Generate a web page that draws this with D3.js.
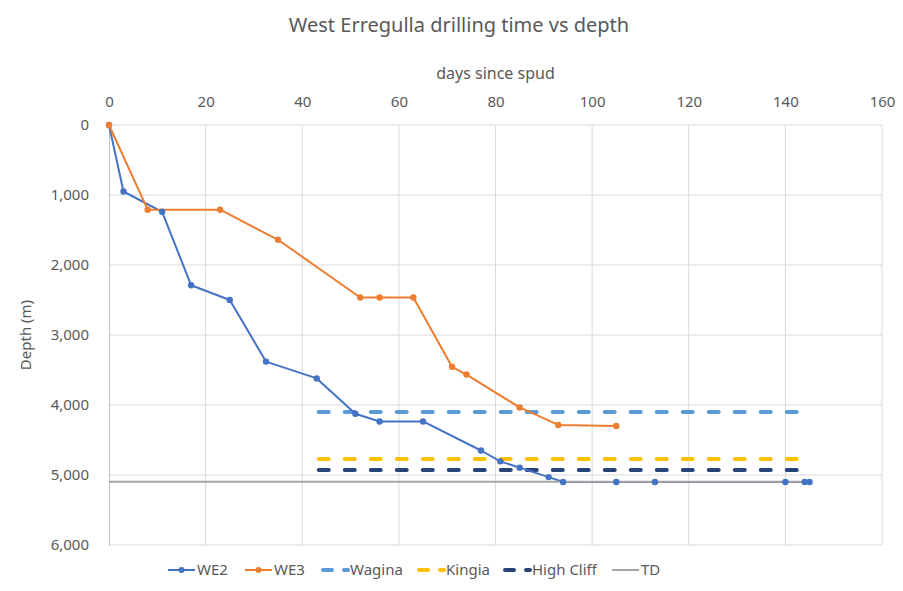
<!DOCTYPE html>
<html>
<head>
<meta charset="utf-8">
<script src="https://cdn.jsdelivr.net/npm/d3@7"></script>
<style>
  body { margin: 0; background: #fff; }
  text { font-family: "Noto Sans", "Open Sans", sans-serif; fill: #595959; }
</style>
</head>
<body>
<div id="chart"></div>
<script>
// well data: [days since spud, depth m]
const we2 = [[0, 0], [3, 950], [11, 1240], [17, 2290], [25, 2500], [32.5, 3380], [43, 3620],
  [51, 4125], [56, 4235], [65, 4235], [77, 4650], [81, 4805], [85, 4895], [91, 5030],
  [94, 5100], [105, 5100], [113, 5100], [140, 5100], [144, 5100], [145, 5100]];
const we3 = [[0, 0], [8, 1210], [23, 1210], [35, 1640], [52, 2465], [56, 2465], [63, 2465],
  [71, 3455], [74, 3565], [85, 4035], [93, 4285], [105, 4300]];
const tops = [
  { name: 'Wagina', depth: 4100, color: '#5B9BD5' },
  { name: 'Kingia', depth: 4770, color: '#FFC000' },
  { name: 'High Cliff', depth: 4930, color: '#264478' }
];
const topsDays = [43, 142.5];
const td = { depth: 5095, days: [0, 145] };
const xTicks = [0, 20, 40, 60, 80, 100, 120, 140, 160];
const yTicks = [0, 1000, 2000, 3000, 4000, 5000, 6000];

const width = 903, height = 591;
const margin = { top: 125, right: 21, bottom: 46, left: 109 };

const x = d3.scaleLinear().domain([0, 160]).range([margin.left, width - margin.right]);
const y = d3.scaleLinear().domain([0, 6000]).range([margin.top, height - margin.bottom]);

const svg = d3.select('#chart').append('svg')
  .attr('width', width)
  .attr('height', height);

// grid
svg.append('g')
  .selectAll('line')
  .data(xTicks.slice(1))
  .join('line')
  .attr('x1', d => x(d)).attr('x2', d => x(d))
  .attr('y1', y(0)).attr('y2', y(6000))
  .attr('stroke', '#D9D9D9').attr('stroke-width', 1);

svg.append('g')
  .selectAll('line')
  .data(yTicks)
  .join('line')
  .attr('x1', x(0)).attr('x2', x(160))
  .attr('y1', d => y(d)).attr('y2', d => y(d))
  .attr('stroke', '#D9D9D9').attr('stroke-width', 1);

// axes
const xAxis = g => g
  .attr('transform', `translate(0,${margin.top})`)
  .call(d3.axisTop(x).tickValues(xTicks).tickSize(0).tickPadding(18))
  .call(g => g.select('.domain').remove())
  .call(g => g.selectAll('text').style('font-size', '15px').attr('fill', '#595959'));

const yAxis = g => g
  .attr('transform', `translate(${margin.left},0)`)
  .call(d3.axisLeft(y).tickValues(yTicks).tickSize(0).tickPadding(20).tickFormat(d3.format(',')))
  .call(g => g.select('.domain').attr('stroke', '#BFBFBF'))
  .call(g => g.selectAll('text').style('font-size', '15px').attr('fill', '#595959'));

svg.append('g').call(xAxis);
svg.append('g').call(yAxis);

// titles
svg.append('text')
  .attr('x', 459).attr('y', 32)
  .attr('text-anchor', 'middle')
  .style('font-size', '20px')
  .text('West Erregulla drilling time vs depth');

svg.append('text')
  .attr('x', (x(0) + x(160)) / 2).attr('y', 79)
  .attr('text-anchor', 'middle')
  .style('font-size', '16px')
  .text('days since spud');

svg.append('text')
  .attr('transform', `translate(31,${(y(0) + y(6000)) / 2}) rotate(-90)`)
  .attr('text-anchor', 'middle')
  .style('font-size', '15px')
  .text('Depth (m)');

const line = d3.line().x(d => x(d[0])).y(d => y(d[1]));

// formation tops
tops.forEach(t => {
  svg.append('path')
    .datum(topsDays.map(d => [d, t.depth]))
    .attr('fill', 'none').attr('stroke', t.color).attr('stroke-width', 4)
    .attr('stroke-dasharray', '10,16').attr('stroke-linecap', 'round')
    .attr('transform', 'translate(2,0)')
    .attr('d', line);
});

// well lines
const wells = [[we2, '#4472C4'], [we3, '#ED7D31']];
wells.forEach(([data, color]) => {
  svg.append('path')
    .datum(data)
    .attr('fill', 'none').attr('stroke', color).attr('stroke-width', 2)
    .attr('stroke-linejoin', 'round')
    .attr('d', line);
});

// TD
svg.append('path')
  .datum(td.days.map(d => [d, td.depth]))
  .attr('fill', 'none').attr('stroke', '#A5A5A5').attr('stroke-width', 2)
  .attr('d', line);

// well markers
wells.forEach(([data, color]) => {
  svg.append('g')
    .selectAll('circle')
    .data(data)
    .join('circle')
    .attr('cx', d => x(d[0])).attr('cy', d => y(d[1]))
    .attr('r', 3.2).attr('fill', color);
});

// legend
const legend = [
  { name: 'WE2', color: '#4472C4', x0: 168, type: 'marker' },
  { name: 'WE3', color: '#ED7D31', x0: 245, type: 'marker' },
  { name: 'Wagina', color: '#5B9BD5', x0: 321, type: 'dash' },
  { name: 'Kingia', color: '#FFC000', x0: 417, type: 'dash' },
  { name: 'High Cliff', color: '#264478', x0: 503, type: 'dash' },
  { name: 'TD', color: '#A5A5A5', x0: 612, type: 'solid' }
];
const ly = 570;
const lg = svg.append('g');
legend.forEach(l => {
  if (l.type === 'dash') {
    lg.append('line').attr('x1', l.x0 + 2).attr('x2', l.x0 + 11).attr('y1', ly).attr('y2', ly)
      .attr('stroke', l.color).attr('stroke-width', 4).attr('stroke-linecap', 'round');
    lg.append('line').attr('x1', l.x0 + 23).attr('x2', l.x0 + 27).attr('y1', ly).attr('y2', ly)
      .attr('stroke', l.color).attr('stroke-width', 4).attr('stroke-linecap', 'round');
  } else {
    lg.append('line').attr('x1', l.x0).attr('x2', l.x0 + 27).attr('y1', ly).attr('y2', ly)
      .attr('stroke', l.color).attr('stroke-width', 2);
    if (l.type === 'marker') {
      lg.append('circle').attr('cx', l.x0 + 13.5).attr('cy', ly).attr('r', 3).attr('fill', l.color);
    }
  }
  lg.append('text').attr('x', l.x0 + 29).attr('y', ly + 5)
    .style('font-size', '15px').text(l.name);
});
</script>
</body>
</html>
